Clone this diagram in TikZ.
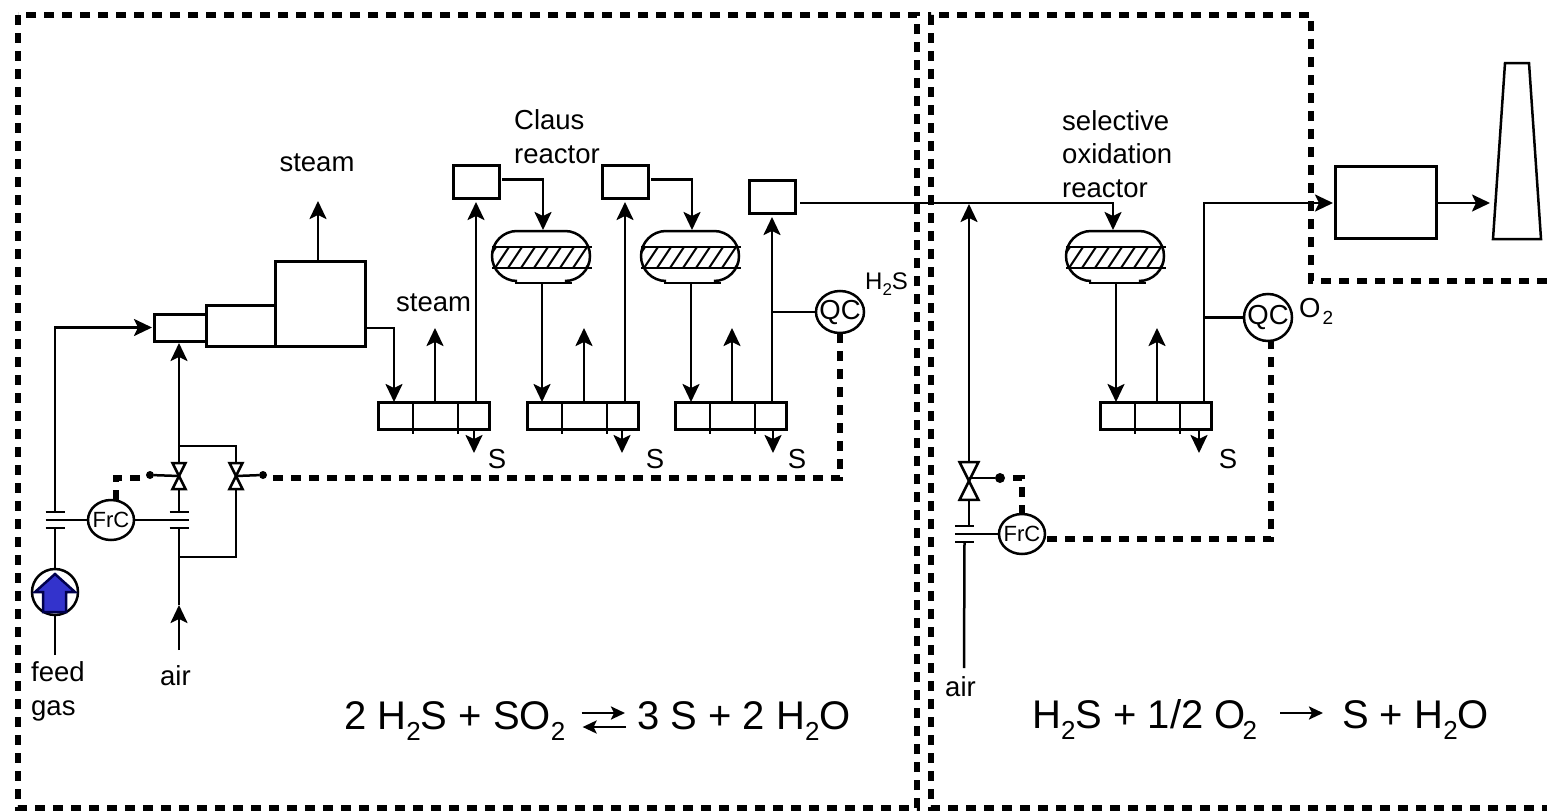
\documentclass[tikz,border=0pt]{standalone}
\usepackage{fontspec}
\setmainfont{Liberation Sans}
\usepackage{tikz}
\usetikzlibrary{arrows.meta,shapes.geometric}
\newcommand{\ctext}[1]{\makebox[0pt]{#1}}
\newcommand{\low}[2]{\raisebox{-.28em}{\fontsize{#1}{#1}\selectfont #2}}
\tikzset{
  pipe/.style={line width=2.5pt},
  flow/.style={pipe,-{Stealth[length=18pt,width=17pt,inset=4pt]}},
  eqflow/.style={pipe,-{Stealth[length=14pt,width=13pt,inset=3pt]}},
  signal/.style={line width=6pt,dash pattern=on 10pt off 8pt},
  frameline/.style={line width=6pt,dash pattern=on 10pt off 8pt},
  unitbox/.style={draw,line width=3pt,fill=white,inner sep=0pt,outer sep=0pt},
  ctrl/.style={draw,ellipse,line width=2.5pt,fill=white,inner sep=0pt,outer sep=0pt},
  dotnode/.style={circle,fill=black,inner sep=0pt,outer sep=0pt},
  tag/.style={inner sep=0pt,anchor=base west,align=left,font=\fontsize{27.5}{33.5}\selectfont},
  eqn/.style={inner sep=0pt,font=\fontsize{40}{44}\selectfont},
  valve/.pic={
    \draw[pipe,fill=white] (-6.5,-13) -- (6.5,-13) -- (0,0) -- cycle;
    \draw[pipe,fill=white] (-6.5,13) -- (6.5,13) -- (0,0) -- cycle;
    \coordinate (-top) at (0,-13);
    \coordinate (-bot) at (0,13);
    \coordinate (-mid) at (0,0);
  },
  plate/.pic={
    \draw[pipe] (-9.5,-8) -- (9.5,-8);
    \draw[pipe] (-9.5,8) -- (9.5,8);
    \coordinate (-top) at (0,-8);
    \coordinate (-bot) at (0,8);
    \coordinate (-lft) at (-9.5,0);
    \coordinate (-rgt) at (9.5,0);
  },
  reactor/.pic={
    \begin{scope}
      \clip (-49,16) rectangle (49,37);
      \foreach \hx in {-59,-46,...,46}
        \draw[line width=2pt] (\hx,37) -- (\hx+14,16);
    \end{scope}
    \draw[pipe,rounded corners=25pt] (-25,50) -- (-49,50) -- (-49,0) -- (49,0) -- (49,50) -- (25,50);
    \draw[pipe] (-49,16) -- (51,16);
    \draw[pipe] (-49,37) -- (51,37);
    \draw[pipe] (-26,52) -- (31,52);
    \coordinate (-in) at (2,-1);
    \coordinate (-out) at (1,52);
  },
}
\begin{document}
\begin{tikzpicture}[x=1pt,y=-1pt]
\useasboundingbox (0,0) rectangle (1547,811);
\draw[frameline] (18,15) rectangle (917,808);
\draw[frameline] (1547,281) -- (1311,281) -- (1311,15) -- (931,15) -- (931,808) -- (1547,808);

\node[unitbox,minimum width=90,minimum height=85] (boiler) at (320,303.5) {};
\node[unitbox,minimum width=69,minimum height=41] (tube) at (240.5,325.5) {};
\node[unitbox,minimum width=52,minimum height=27] (burner) at (180,327.5) {};
\node[unitbox,minimum width=46,minimum height=33] (heatA) at (476,181.5) {};
\node[unitbox,minimum width=46,minimum height=33] (heatB) at (625,181.5) {};
\node[unitbox,minimum width=46,minimum height=33] (heatC) at (772,196.5) {};
\node[unitbox,minimum width=101,minimum height=72] (boxD) at (1385.5,202) {};
\coordinate (stackIn) at (1490,203);
\draw[pipe] (1493,239) -- (1505,63) -- (1529,63) -- (1541,239) -- cycle;

\pic (reactorA) at (541,231) {reactor};
\pic (reactorB) at (690,231) {reactor};
\pic (reactorD) at (1115,231) {reactor};

\foreach \nm/\lx/\ox/\sx/\tx in {A/378/476/474/497, B/527/625/622/655, C/675/772/773/797, D/1100/1204/1199/1228}{
  \node[unitbox,minimum width=111,minimum height=27] (cond\nm) at (\lx+55.5,415.5) {};
  \draw[pipe] (\lx+35,402) -- (\lx+35,434);
  \draw[pipe] (\lx+80,402) -- (\lx+80,434);
  \coordinate (cond\nm-in) at (\lx+16,402);
  \coordinate (cond\nm-out) at (\ox,402);
  \coordinate (cond\nm-up) at (\lx+57,402);
  \coordinate (steam\nm) at (\lx+57,328);
  \coordinate (sulfur\nm) at (\sx,431);
  \coordinate (sulfurEnd\nm) at (\sx,453);
  \draw[flow] (cond\nm-up) -- (steam\nm);
  \draw[flow] (sulfur\nm) -- (sulfurEnd\nm);
  \node[tag,anchor=base] at (\tx,468) {S};
}

\node[ctrl,minimum width=46,minimum height=40,font=\fontsize{22}{26}\selectfont] (frcA) at (111,520) {\ctext{FrC}};
\node[ctrl,minimum width=46,minimum height=40,font=\fontsize{22}{26}\selectfont] (frcB) at (1022,534) {\ctext{FrC}};
\node[ctrl,minimum width=48,minimum height=42,font=\fontsize{27.5}{30}\selectfont] (qcA) at (840,312) {\ctext{QC}};
\node[ctrl,minimum width=48,minimum height=47,font=\fontsize{27.5}{30}\selectfont] (qcB) at (1268,317.5) {\ctext{QC}};

\pic (plateA) at (55,520) {plate};
\pic (plateB) at (179,520) {plate};
\pic (plateC) at (964.5,534) {plate};
\pic (valveA) at (179,476) {valve};
\pic (valveB) at (236,476) {valve};
\pic[scale=1.45] (valveC) at (969,481) {valve};
\node[dotnode,minimum size=8] (dotA) at (150,475) {};
\node[dotnode,minimum size=8] (dotB) at (263,475) {};
\node[dotnode,minimum size=10] (dotC) at (1000,478) {};

\node[circle,draw,pipe,inner sep=0pt,outer sep=0pt,minimum size=46] (pump) at (55,592) {};
\draw[line width=2.5pt,draw=black!70!blue,fill={rgb,255:red,51;green,51;blue,204}] (55,574) -- (75,592) -- (66,592) -- (66,612) -- (43,612) -- (43,592) -- (35,592) -- cycle;

\coordinate (feedEnd) at (55,655);
\coordinate (feedCorner) at (55,327.5);
\coordinate (airA) at (179,650);
\coordinate (airMid) at (179,605);
\coordinate (jctA) at (179,446);
\coordinate (jctB) at (179,557);
\coordinate (steamTop) at (318,201);
\coordinate (airB) at (964,668);
\coordinate (airTop) at (969,204);

\draw[pipe] (feedEnd) -- (pump.south);
\draw[pipe] (pump.north) -- (plateA-bot);
\draw[flow,shorten >=2pt] (plateA-top) -- (feedCorner) -- (burner.west);
\draw[pipe] (plateA-lft) -- (frcA.west);
\draw[pipe] (frcA.east) -- (plateB-rgt);
\draw[flow] (airA) -- (airMid);
\draw[pipe] (airMid) -- (plateB-bot);
\draw[pipe] (plateB-top) -- (valveA-bot);
\draw[flow,shorten >=2pt] (valveA-top) -- (valveA-top |- burner.south);
\draw[pipe] (jctA) -| (valveB-top);
\draw[pipe] (valveB-bot) |- (jctB);
\draw[pipe] (valveA-mid) -- (dotA);
\draw[pipe] (valveB-mid) -- (dotB);
\draw[flow] (steamTop |- boiler.north) -- (steamTop);
\draw[flow] ([yshift=-24.5pt]boiler.east) -| (condA-in);

\draw[flow,shorten >=4pt] (condA-out) -- (heatA.south);
\draw[flow,shorten >=4pt] (condB-out) -- (heatB.south);
\draw[flow,shorten >=4pt] (condC-out) -- (heatC.south);
\draw[flow,shorten <=3pt] ([yshift=2pt]heatA.east) -| (reactorA-in);
\draw[flow,shorten <=3pt] ([yshift=2pt]heatB.east) -| (reactorB-in);
\draw[flow,shorten <=5pt] ([yshift=-6.5pt]heatC.east) -| ([xshift=-4pt]reactorD-in);
\draw[flow] (reactorA-out) -- (reactorA-out |- condB.north);
\draw[flow] (reactorB-out) -- (reactorB-out |- condC.north);
\draw[flow] (reactorD-out) -- (reactorD-out |- condD.north);
\draw[pipe] (condC-out |- qcA.west) -- (qcA.west);
\draw[pipe] (condD-out |- qcB.west) -- (qcB.west);
\draw[flow,shorten >=2pt] (condD-out) |- ([yshift=-1pt]boxD.west);
\draw[flow,shorten <=2pt] ([yshift=-1pt]boxD.east) -- (stackIn);

\draw[pipe] (plateC-lft) -- (frcB.west);
\draw[pipe] (airB) -- (plateC-bot);
\draw[pipe] (valveC-bot |- plateC-top) -- (valveC-bot);
\draw[flow] (valveC-top) -- (airTop);
\draw[pipe] (valveC-mid |- dotC) -- (dotC);

\draw[signal,shorten <=6pt] ([yshift=-3pt]dotB.east) -| (qcA.south);
\draw[signal,shorten <=6pt] ([yshift=-3pt]dotA.west) -| ([xshift=5pt]frcA.north);
\draw[signal,shorten <=8pt] (dotC.east) -| (frcB.north);
\draw[signal,shorten <=2pt] ([yshift=-5pt]frcB.east) -| ([xshift=3pt]qcB.south);

\node[tag,anchor=base] at (317,171) {steam};
\node[tag] at (396,311) {steam};
\node[tag] at (514,163) {Claus\\reactor};
\node[tag] at (1062,197) {selective\\oxidation\\reactor};
\node[tag] at (31,715) {feed\\gas};
\node[tag] at (160,685) {air};
\node[tag] at (945,696) {air};
\node[tag,font=\fontsize{24}{28}\selectfont] at (865,289) {H\low{17}{2}S};
\node[tag] at (1299,317) {O\kern2pt\low{19}{2}};

\node[eqn,anchor=base west] (eqOneL) at (344,729) {2 H\low{26}{2}S + SO\low{26}{2}};
\node[eqn,anchor=base west] (eqOneR) at (637,729) {3 S + 2 H\low{26}{2}O};
\draw[eqflow] ([xshift=16pt,yshift=16pt]eqOneL.base east) -- ([xshift=-12pt,yshift=16pt]eqOneR.base west);
\draw[eqflow] ([xshift=-11pt,yshift=2pt]eqOneR.base west) -- ([xshift=17pt,yshift=2pt]eqOneL.base east);
\node[eqn,anchor=base west] (eqTwoL) at (1032,728) {H\low{26}{2}S + 1/2 O\kern-3pt\low{26}{2}};
\node[eqn,anchor=base west] (eqTwoR) at (1342,728) {S + H\low{26}{2}O};
\draw[eqflow] ([xshift=23pt,yshift=15pt]eqTwoL.base east) -- ([xshift=-19pt,yshift=15pt]eqTwoR.base west);
\end{tikzpicture}
\end{document}
